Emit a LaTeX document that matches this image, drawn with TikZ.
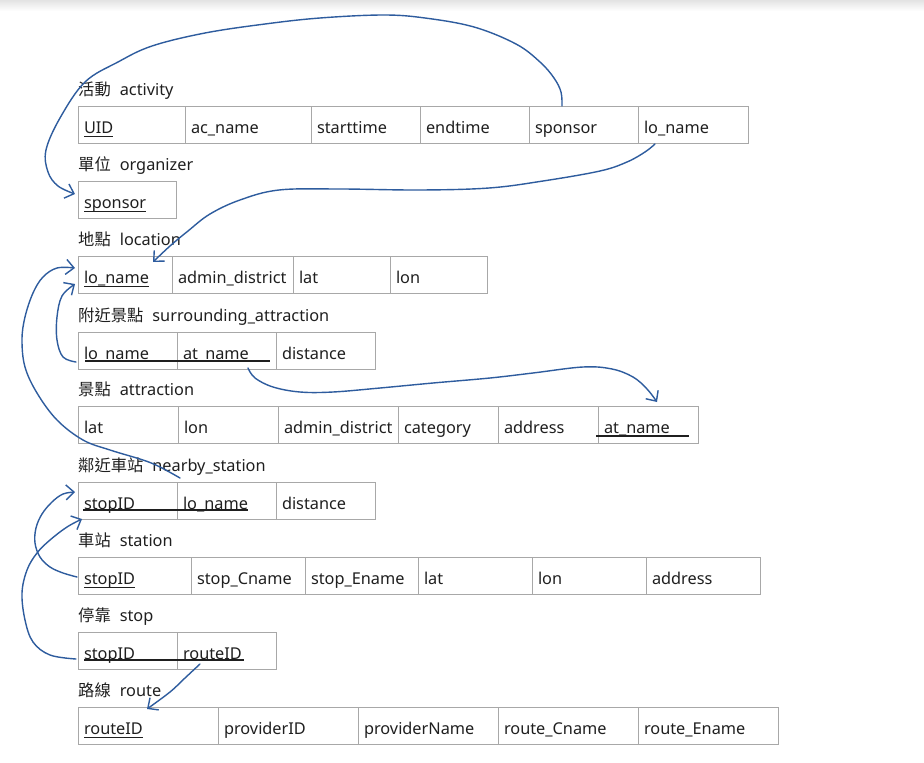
\documentclass[tikz,border=0pt]{standalone}
\usepackage{fontspec}
\setmainfont{Noto Sans}
\newfontfamily\cjk{Noto Sans CJK TC}
\usetikzlibrary{arrows.meta,calc}

\definecolor{ink}{HTML}{1F1F1F}
\definecolor{gridline}{HTML}{A8A8A8}
\definecolor{pen}{HTML}{2E5C9E}

% underline a key field a fixed distance below the baseline
\newcommand\keyul[1]{\setbox0\hbox{#1}\rlap{\rule[-3.8pt]{\wd0}{1pt}}\box0}

% one field of a relation: name, left x, right x, top y, text
\newcommand\field[5]{%
  \pgfmathsetmacro\fieldw{#3-#2}%
  \pgfmathsetmacro\fieldtw{#3-#2-11}%
  \node[fieldcell, minimum width=\fieldw pt] (#1) at (#2,#4) {\makebox[\fieldtw pt][l]{#5}};}

\begin{document}
\begin{tikzpicture}[x=1pt, y=-1pt,
  font=\fontsize{16.3pt}{20pt}\selectfont, text=ink,
  fieldcell/.style={draw=gridline, line width=1pt, anchor=north west,
    minimum height=37pt, inner xsep=5.5pt, inner ysep=0pt,
    text height=17pt, text depth=0pt},
  tabletitle/.style={anchor=base west, inner sep=0pt},
  keyline/.style={draw=ink, line width=1.1pt},
  conn/.style={draw=pen, line width=1.4pt, line cap=round, line join=round,
    -{Straight Barb[length=8pt, width=15pt, line width=1.4pt]}}]

\useasboundingbox (0,0) rectangle (924,763);
\fill[white] (0,0) rectangle (924,763);
\shade[top color=black!11, bottom color=white] (0,0) rectangle (924,11);

% ---------- relations ----------
\node[tabletitle] (t-activity) at (78,95) {{\cjk 活動}\hspace{9pt}activity};
\field{act-uid}{78}{185}{106}{\keyul{UID}}
\field{act-acname}{185}{311}{106}{ac\_name}
\field{act-start}{311}{420}{106}{starttime}
\field{act-end}{420}{529}{106}{endtime}
\field{act-sponsor}{529}{638}{106}{sponsor}
\field{act-lo}{638}{748}{106}{lo\_name}

\node[tabletitle] (t-organizer) at (78,170) {{\cjk 單位}\hspace{9pt}organizer};
\field{org-sponsor}{78}{176}{181}{\keyul{sponsor}}

\node[tabletitle] (t-location) at (78,245) {{\cjk 地點}\hspace{9pt}location};
\field{loc-lo}{78}{172}{256}{\keyul{lo\_name}}
\field{loc-admin}{172}{293}{256}{admin\_district}
\field{loc-lat}{293}{390}{256}{lat}
\field{loc-lon}{390}{487}{256}{lon}

\node[tabletitle] (t-surrounding) at (78,321) {{\cjk 附近景點}\hspace{9pt}surrounding\_attraction};
\field{sur-lo}{78}{177}{332}{lo\_name}
\field{sur-at}{177}{276}{332}{at\_name}
\field{sur-dist}{276}{375}{332}{distance}

\node[tabletitle] (t-attraction) at (78,395) {{\cjk 景點}\hspace{9pt}attraction};
\field{att-lat}{78}{178}{406}{lat}
\field{att-lon}{178}{278}{406}{lon}
\field{att-admin}{278}{398}{406}{admin\_district}
\field{att-cat}{398}{498}{406}{category}
\field{att-addr}{498}{598}{406}{address}
\field{att-at}{598}{698}{406}{at\_name}

\node[tabletitle] (t-nearby) at (78,471) {{\cjk 鄰近車站}\hspace{9pt}nearby\_station};
\field{nea-stop}{78}{177}{482}{stopID}
\field{nea-lo}{177}{276}{482}{lo\_name}
\field{nea-dist}{276}{375}{482}{distance}

\node[tabletitle] (t-station) at (78,546) {{\cjk 車站}\hspace{9pt}station};
\field{sta-stop}{78}{191}{557}{\keyul{stopID}}
\field{sta-cname}{191}{305}{557}{stop\_Cname}
\field{sta-ename}{305}{418}{557}{stop\_Ename}
\field{sta-lat}{418}{532}{557}{lat}
\field{sta-lon}{532}{646}{557}{lon}
\field{sta-addr}{646}{760}{557}{address}

\node[tabletitle] (t-stop) at (78,621) {{\cjk 停靠}\hspace{9pt}stop};
\field{stp-stop}{78}{177}{632}{stopID}
\field{stp-route}{177}{276}{632}{routeID}

\node[tabletitle] (t-route) at (78,696) {{\cjk 路線}\hspace{9pt}route};
\field{rte-route}{78}{218}{707}{\keyul{routeID}}
\field{rte-pid}{218}{358}{707}{providerID}
\field{rte-pname}{358}{498}{707}{providerName}
\field{rte-cname}{498}{638}{707}{route\_Cname}
\field{rte-ename}{638}{778}{707}{route\_Ename}

% composite keys, underlined across their fields
\draw[keyline] ($(sur-lo.north west)+(7,29)$) -- ($(sur-at.north east)+(-7,29)$);
\draw[keyline] ($(att-at.north west)+(-2,30)$) -- ($(att-at.north east)+(-10,30)$);
\draw[keyline] ($(nea-stop.north west)+(5,28)$) -- ($(nea-lo.north east)+(-29,28)$);
\draw[keyline] ($(stp-stop.north west)+(6,28)$) -- ($(stp-route.north east)+(-33,28)$);

% ---------- references ----------
% activity.sponsor -> organizer.sponsor
\draw[conn] plot[smooth, tension=0.6] coordinates {
  ($(act-sponsor.north west)+(33,0)$) (561,92) (554,78) (540,62) (516,44)
  (474,27) (425,18) (383,15) (320,18) (265,24) (205,33) (152,46) (118,62)
  (85,82) (60,118) (46,150) (48,172) (58,186)
  ($(org-sponsor.west)+(-3,-6)$)};

% activity.lo_name -> location.lo_name
\draw[conn] plot[smooth, tension=0.6] coordinates {
  ($(act-lo.south west)+(17,0)$) (645,152) (627,162) (600,171) (543,181)
  (489,188) (420,190) (340,189) (279,190) (240,200) (210,214) (188,231)
  (170,246) ($(loc-lo.north west)+(75,6)$)};

% surrounding_attraction.lo_name -> location.lo_name
\draw[conn] plot[smooth, tension=0.6] coordinates {
  ($(sur-lo.west)+(-2,11)$) (63,357) (57,340) (57,317) (62,296)
  ($(loc-lo.west)+(-3,9)$)};

% nearby_station.lo_name -> location.lo_name
\draw[conn] plot[smooth, tension=0.6] coordinates {
  ($(nea-lo.north west)+(3,-4)$) (160,467) (143,460) (110,450) (83,440)
  (57,420) (37,393) (25,367) (22,340) (25,317) (33,293) (43,277) (57,268)
  ($(loc-lo.west)+(-3,-7)$)};

% surrounding_attraction.at_name -> attraction.at_name
\draw[conn] plot[smooth, tension=0.6] coordinates {
  ($(sur-at.south west)+(71,-2)$) (255,378) (273,387) (300,392) (333,392)
  (380,388) (433,383) (490,378) (533,373) (583,367) (612,369) (633,377)
  (647,389) ($(att-at.north west)+(59,-4)$)};

% station.stopID -> nearby_station.stopID
\draw[conn] plot[smooth, tension=0.6] coordinates {
  ($(sta-stop.west)+(-1,1)$) (63,573) (50,567) (40,557) (35,543) (36,528)
  (42,514) (52,502) (63,494) ($(nea-stop.west)+(-3,-9)$)};

% stop.stopID -> nearby_station.stopID
\draw[conn] plot[smooth, tension=0.6] coordinates {
  ($(stp-stop.west)+(-2,8)$) (50,655) (33,642) (25,620) (22,593) (27,570)
  (37,553) (50,540) (67,527) ($(nea-stop.south west)+(4,-1)$)};

% stop.routeID -> route.routeID
\draw[conn] plot[smooth, tension=0.6] coordinates {
  ($(stp-route.south west)+(23,-6)$) (185,678) (170,692)
  ($(rte-route.north west)+(69,2)$)};

\end{tikzpicture}
\end{document}
